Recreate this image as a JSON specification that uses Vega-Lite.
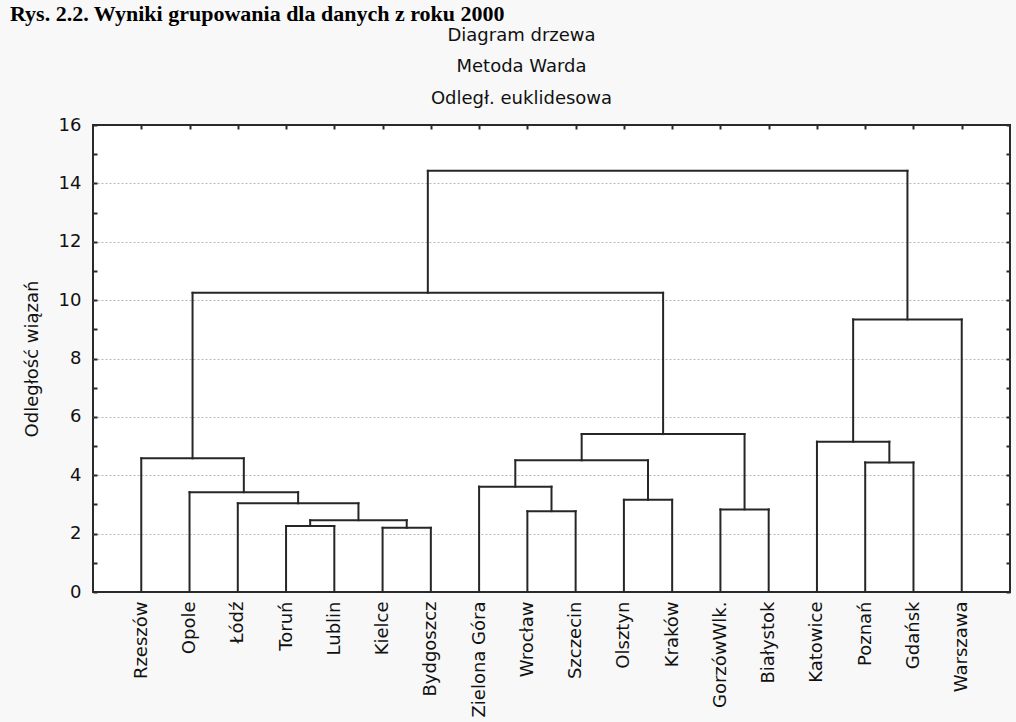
{
  "$schema": "https://vega.github.io/schema/vega-lite/v6.json",
  "width": 917,
  "height": 467,
  "autosize": {"type": "none"},
  "padding": {"left": 93, "top": 125, "right": 6, "bottom": 130},
  "background": "#f8f8f8",
  "config": {
    "view": {"stroke": "#2a2a2a", "strokeWidth": 2, "fill": "white"},
    "font": "DejaVu Sans"
  },
  "title": {
    "text": "Rys. 2.2. Wyniki grupowania dla danych z roku 2000",
    "font": "Liberation Serif",
    "fontSize": 22,
    "fontWeight": "bold",
    "anchor": "start",
    "frame": "group",
    "dx": -83,
    "dy": 9,
    "offset": 9,
    "color": "#000"
  },
  "data": {
    "values": [
      {"x1": 4, "x2": 5, "y1": 2.26, "y2": 2.26},
      {"x1": 4, "x2": 4, "y1": 0, "y2": 2.26},
      {"x1": 5, "x2": 5, "y1": 0, "y2": 2.26},
      {"x1": 6, "x2": 7, "y1": 2.2, "y2": 2.2},
      {"x1": 6, "x2": 6, "y1": 0, "y2": 2.2},
      {"x1": 7, "x2": 7, "y1": 0, "y2": 2.2},
      {"x1": 4.5, "x2": 6.5, "y1": 2.46, "y2": 2.46},
      {"x1": 4.5, "x2": 4.5, "y1": 2.26, "y2": 2.46},
      {"x1": 6.5, "x2": 6.5, "y1": 2.2, "y2": 2.46},
      {"x1": 3, "x2": 5.5, "y1": 3.04, "y2": 3.04},
      {"x1": 3, "x2": 3, "y1": 0, "y2": 3.04},
      {"x1": 5.5, "x2": 5.5, "y1": 2.46, "y2": 3.04},
      {"x1": 2, "x2": 4.25, "y1": 3.42, "y2": 3.42},
      {"x1": 2, "x2": 2, "y1": 0, "y2": 3.42},
      {"x1": 4.25, "x2": 4.25, "y1": 3.04, "y2": 3.42},
      {"x1": 1, "x2": 3.125, "y1": 4.58, "y2": 4.58},
      {"x1": 1, "x2": 1, "y1": 0, "y2": 4.58},
      {"x1": 3.125, "x2": 3.125, "y1": 3.42, "y2": 4.58},
      {"x1": 9, "x2": 10, "y1": 2.77, "y2": 2.77},
      {"x1": 9, "x2": 9, "y1": 0, "y2": 2.77},
      {"x1": 10, "x2": 10, "y1": 0, "y2": 2.77},
      {"x1": 8, "x2": 9.5, "y1": 3.61, "y2": 3.61},
      {"x1": 8, "x2": 8, "y1": 0, "y2": 3.61},
      {"x1": 9.5, "x2": 9.5, "y1": 2.77, "y2": 3.61},
      {"x1": 11, "x2": 12, "y1": 3.16, "y2": 3.16},
      {"x1": 11, "x2": 11, "y1": 0, "y2": 3.16},
      {"x1": 12, "x2": 12, "y1": 0, "y2": 3.16},
      {"x1": 8.75, "x2": 11.5, "y1": 4.51, "y2": 4.51},
      {"x1": 8.75, "x2": 8.75, "y1": 3.61, "y2": 4.51},
      {"x1": 11.5, "x2": 11.5, "y1": 3.16, "y2": 4.51},
      {"x1": 13, "x2": 14, "y1": 2.83, "y2": 2.83},
      {"x1": 13, "x2": 13, "y1": 0, "y2": 2.83},
      {"x1": 14, "x2": 14, "y1": 0, "y2": 2.83},
      {"x1": 10.125, "x2": 13.5, "y1": 5.41, "y2": 5.41},
      {"x1": 10.125, "x2": 10.125, "y1": 4.51, "y2": 5.41},
      {"x1": 13.5, "x2": 13.5, "y1": 2.83, "y2": 5.41},
      {"x1": 2.0625, "x2": 11.8125, "y1": 10.25, "y2": 10.25},
      {"x1": 2.0625, "x2": 2.0625, "y1": 4.58, "y2": 10.25},
      {"x1": 11.8125, "x2": 11.8125, "y1": 5.41, "y2": 10.25},
      {"x1": 16, "x2": 17, "y1": 4.44, "y2": 4.44},
      {"x1": 16, "x2": 16, "y1": 0, "y2": 4.44},
      {"x1": 17, "x2": 17, "y1": 0, "y2": 4.44},
      {"x1": 15, "x2": 16.5, "y1": 5.15, "y2": 5.15},
      {"x1": 15, "x2": 15, "y1": 0, "y2": 5.15},
      {"x1": 16.5, "x2": 16.5, "y1": 4.44, "y2": 5.15},
      {"x1": 15.75, "x2": 18, "y1": 9.34, "y2": 9.34},
      {"x1": 15.75, "x2": 15.75, "y1": 5.15, "y2": 9.34},
      {"x1": 18, "x2": 18, "y1": 0, "y2": 9.34},
      {"x1": 6.9375, "x2": 16.875, "y1": 14.43, "y2": 14.43},
      {"x1": 6.9375, "x2": 6.9375, "y1": 10.25, "y2": 14.43},
      {"x1": 16.875, "x2": 16.875, "y1": 9.34, "y2": 14.43}
    ]
  },
  "layer": [
    {
      "mark": {"type": "rule", "color": "#262626", "strokeWidth": 2, "strokeCap": "square"},
      "encoding": {
        "x": {
          "field": "x1", "type": "quantitative",
          "scale": {"domain": [0, 19], "nice": false, "zero": false},
          "axis": {
            "orient": "bottom",
            "values": [1, 2, 3, 4, 5, 6, 7, 8, 9, 10, 11, 12, 13, 14, 15, 16, 17, 18],
            "labelExpr": "['Rzeszów','Opole','Łódź','Toruń','Lublin','Kielce','Bydgoszcz','Zielona Góra','Wrocław','Szczecin','Olsztyn','Kraków','GorzówWlk.','Białystok','Katowice','Poznań','Gdańsk','Warszawa'][datum.value - 1]",
            "labelAngle": -90,
            "labelFont": "DejaVu Sans",
            "labelFontSize": 18,
            "labelColor": "#111",
            "labelPadding": 9,
            "labelOverlap": false,
            "labelFlush": false,
            "labelBound": false,
            "ticks": false,
            "domain": false,
            "grid": false,
            "title": null
          }
        },
        "x2": {"field": "x2"},
        "y": {
          "field": "y1", "type": "quantitative",
          "scale": {"domain": [0, 16], "nice": false},
          "axis": {
            "orient": "left",
            "values": [0, 1, 2, 3, 4, 5, 6, 7, 8, 9, 10, 11, 12, 13, 14, 15, 16],
            "labelExpr": "datum.value % 2 === 0 ? datum.label : ''",
            "labelFont": "DejaVu Sans",
            "labelFontSize": 18,
            "labelColor": "#111",
            "labelPadding": 16,
            "tickSize": -4,
            "tickWidth": 2,
            "tickColor": "#2a2a2a",
            "domain": false,
            "grid": true,
            "gridDash": [2, 2],
            "gridColor": "#b8b8b8",
            "gridWidth": 1,
            "gridOpacity": {"condition": {"test": "datum.value % 2 === 1 || datum.value === 0 || datum.value === 16", "value": 0}, "value": 1},
            "title": "Odległość wiązań",
            "titleFont": "DejaVu Sans",
            "titleFontSize": 18,
            "titleFontWeight": "normal",
            "titleColor": "#111",
            "titlePadding": 17
          }
        },
        "y2": {"field": "y2"}
      }
    },
    {
      "mark": {"type": "rule", "color": "#2a2a2a", "strokeWidth": 2, "opacity": 0},
      "encoding": {
        "x": {
          "field": "x1", "type": "quantitative",
          "axis": {
            "orient": "top",
            "values": [1, 2, 3, 4, 5, 6, 7, 8, 9, 10, 11, 12, 13, 14, 15, 16, 17, 18],
            "labels": false,
            "tickSize": -4,
            "tickWidth": 2,
            "tickColor": "#2a2a2a",
            "domain": false,
            "grid": false,
            "title": ["Diagram drzewa", "Metoda Warda", "Odległ. euklidesowa"],
            "titleFont": "DejaVu Sans",
            "titleFontSize": 18,
            "titleFontWeight": "normal",
            "titleColor": "#111",
            "titleLineHeight": 31.7,
            "titleX": 428,
            "titleY": -85,
            "titleAlign": "center",
            "titleBaseline": "alphabetic"
          }
        },
        "x2": {"field": "x2"},
        "y": {
          "field": "y1", "type": "quantitative",
          "axis": {
            "orient": "right",
            "values": [0, 1, 2, 3, 4, 5, 6, 7, 8, 9, 10, 11, 12, 13, 14, 15, 16],
            "labels": false,
            "tickSize": -4,
            "tickWidth": 2,
            "tickColor": "#2a2a2a",
            "domain": false,
            "grid": false,
            "title": null
          }
        },
        "y2": {"field": "y2"}
      }
    }
  ],
  "resolve": {"axis": {"x": "independent", "y": "independent"}}
}
